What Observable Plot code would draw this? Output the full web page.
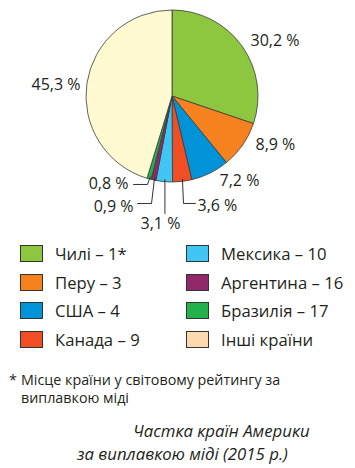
<!DOCTYPE html>
<html>
<head>
<meta charset="utf-8">
<script src="https://cdn.jsdelivr.net/npm/d3@7"></script>
<script src="https://cdn.jsdelivr.net/npm/@observablehq/plot@0.6"></script>
<style>
  html, body { margin: 0; padding: 0; background: #fff; }
  body { width: 355px; height: 468px; position: relative; font-family: "Open Sans", sans-serif; color: #231f20; overflow: hidden; }
  #chart { position: absolute; left: 0; top: 0; }
  .leg { position: absolute; font-size: 16.7px; line-height: 18px; white-space: nowrap; }
  .sw { position: absolute; width: 23px; height: 17px; border: 0.8px solid #333; box-sizing: border-box; }
  .note { position: absolute; left: 9px; top: 371px; font-size: 14.3px; line-height: 18px; }
  .cap { position: absolute; left: 77px; top: 420px; text-indent: 56px; font-size: 16.8px; font-style: italic; white-space: nowrap; line-height: 22.5px; }
</style>
</head>
<body>
<div id="chart"></div>
<div id="legend"></div>
<div class="note"><span style="position:absolute;left:0">*</span><div style="margin-left:12px">Місце країни у світовому рейтингу за<br>виплавкою міді</div></div>
<div class="cap">Частка країн Америки<br>за виплавкою міді (2015 р.)</div>
<script>
// ---- data ----
const countries = ["Чилі – 1*", "Перу – 3", "США – 4", "Канада – 9", "Мексика – 10", "Аргентина – 16", "Бразилія – 17", "Інші країни"];
const shares = [30.2, 8.9, 7.2, 3.6, 3.1, 0.9, 0.8, 45.3];
const shareLabels = ["30,2 %", "8,9 %", "7,2 %", "3,6 %", "3,1 %", "0,9 %", "0,8 %", "45,3 %"];
const pieColors = ["#8dc63f", "#f5821f", "#0093d8", "#f04e23", "#40c6f4", "#92276b", "#22b24c", "#fffad2"];
const legendColors = ["#8dc63f", "#f5821f", "#0093d8", "#f04e23", "#40c6f4", "#92276b", "#22b24c", "#fdd9ae"];

// ---- layout (label anchors in pie-radius units) ----
const labelLayout = [
  {x: 0.907, y: 0.651, anchor: "start"},
  {x: 0.965, y: -0.558, anchor: "start"},
  {x: 0.547, y: -0.977, anchor: "start"},
  {x: 0.291, y: -1.267, anchor: "start"},
  {x: -0.140, y: -1.477, anchor: "middle"},
  {x: -0.453, y: -1.279, anchor: "end"},
  {x: -0.512, y: -1.012, anchor: "end"},
  {x: -1.070, y: 0.140, anchor: "end"}
];
const leaderLayout = {
  3: [[0.128, -1.244], [0.267, -1.244]],
  4: [[null, -1.36]],
  5: [[-0.244, -1.244], [-0.407, -1.244]],
  6: [[-0.291, -1.023], [-0.453, -1.023]]
};

const data = countries.map((c, i) => ({country: c, share: shares[i], label: shareLabels[i], pieColor: pieColors[i], ...labelLayout[i]}));
const arcs = d3.pie().sort(null).value(d => d.share)(data);

const leaders = [];
Object.entries(leaderLayout).forEach(([k, pts]) => {
  const a = arcs[+k];
  const mid = (a.startAngle + a.endAngle) / 2;
  const sx = 0.97 * Math.sin(mid), sy = 0.97 * Math.cos(mid);
  leaders.push({id: k, x: sx, y: sy});
  pts.forEach(([px, py]) => leaders.push({id: k, x: px === null ? sx : px, y: py}));
});

function pieMark(index, scales) {
  const cx = scales.x(0), cy = scales.y(0), r = scales.x(1) - scales.x(0);
  const arc = d3.arc().innerRadius(0).outerRadius(r);
  const g = d3.create("svg:g").attr("transform", `translate(${cx},${cy})`);
  g.selectAll("path").data(arcs).join("path")
    .attr("d", arc)
    .attr("fill", d => d.data.pieColor)
    .attr("stroke", "#3a3a3a")
    .attr("stroke-width", 0.8)
    .attr("stroke-linejoin", "round");
  return g.node();
}

const labelMark = (anchor) => Plot.text(data.filter(d => d.anchor === anchor), {
  x: "x", y: "y", text: "label", textAnchor: anchor, lineAnchor: "middle", fontSize: 16, fill: "#231f20"
});

const chart = Plot.plot({
  width: 355,
  height: 236,
  margin: 0,
  x: {domain: [-1, 1], range: [86, 258], axis: null},
  y: {domain: [-1, 1], range: [182, 10], axis: null},
  style: {fontFamily: "Open Sans, sans-serif", color: "#231f20", background: "transparent"},
  marks: [
    pieMark,
    Plot.line(leaders, {x: "x", y: "y", z: "id", stroke: "#333", strokeWidth: 1}),
    labelMark("start"),
    labelMark("middle"),
    labelMark("end")
  ]
});
document.getElementById("chart").appendChild(chart);

// legend
const legend = document.getElementById("legend");
const legendCols = [20, 186], legendRows = [245, 273.5, 302, 330.5];
countries.forEach((c, i) => {
  const col = Math.floor(i / 4), row = i % 4;
  const sw = document.createElement("div");
  sw.className = "sw";
  sw.style.left = legendCols[col] + "px";
  sw.style.top = legendRows[row] + "px";
  sw.style.background = legendColors[i];
  legend.appendChild(sw);
  const t = document.createElement("div");
  t.className = "leg";
  t.style.left = (legendCols[col] + 35) + "px";
  t.style.top = legendRows[row] + "px";
  t.textContent = c;
  legend.appendChild(t);
});
</script>
</body>
</html>
